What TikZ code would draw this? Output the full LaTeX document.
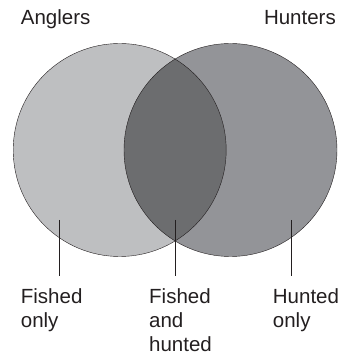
\documentclass[tikz,border=0pt]{standalone}
\usepackage{fontspec}
\setmainfont{Liberation Sans}
\usetikzlibrary{positioning}
\definecolor{fishgray}{HTML}{BEBFC1}
\definecolor{huntgray}{HTML}{939498}
\definecolor{bothgray}{HTML}{6C6D6F}
\definecolor{ink}{HTML}{231F20}
\tikzset{line width=.9pt,
  every node/.style={font=\fontsize{20.5}{24}\selectfont,text=ink,inner sep=0pt},
  setlabel/.style={anchor=base west,align=left},
  pointer/.style={draw=ink,line width=.6pt}}
\begin{document}
\begin{tikzpicture}[x=1pt,y=1pt]
\useasboundingbox (0,0) rectangle (350,356);
\coordinate (anglers) at (119.7,206);
\coordinate (hunters) at (230.5,206);
\fill[fishgray] (anglers) circle(106.5);
\fill[huntgray] (hunters) circle(106.5);
\begin{scope}
\clip (anglers) circle(106.5);
\fill[bothgray] (hunters) circle(106.5);
\end{scope}
\draw[ink] (anglers) circle(106.5);
\draw[ink] (hunters) circle(106.5);
% set names
\node[setlabel] (anglerslabel) at (20.7,331) {Anglers};
\node[anchor=base east] (hunterslabel) at (336,331) {Hunters};
% region labels (base = last line)
\node[setlabel] (fishedonly) at (20.7,28.5) {Fished\\only};
\node[setlabel] (both) at (149,4.5) {Fished\\and\\hunted};
\node[setlabel] (huntedonly) at (272.7,28.5) {Hunted\\only};
\coordinate (fishedin) at (59.3,136);
\coordinate (bothin) at (175.1,136);
\coordinate (huntedin) at (291.7,136);
\draw[pointer] (fishedin) -- ++(0,-56) coordinate (fishedend);
\draw[pointer] (bothin) -- ++(0,-56) coordinate (bothend);
\draw[pointer] (huntedin) -- ++(0,-56) coordinate (huntedend);
\end{tikzpicture}
\end{document}
